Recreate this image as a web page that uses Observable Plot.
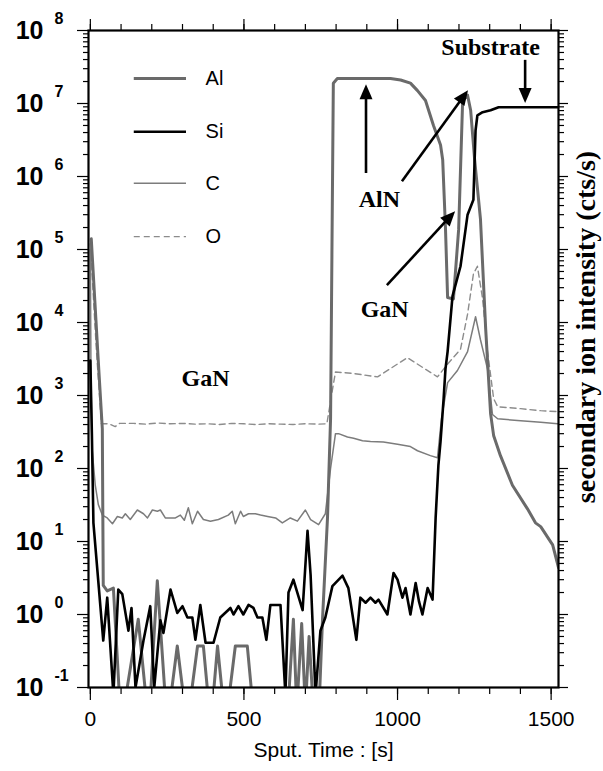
<!DOCTYPE html>
<html><head><meta charset="utf-8">
<script src="https://cdn.jsdelivr.net/npm/d3@7"></script>
<script src="https://cdn.jsdelivr.net/npm/@observablehq/plot@0.6"></script>
<style>body{margin:0;background:#fff;} #chart{width:603px;height:771px;}</style>
</head><body><div id="chart"></div>
<script>
// ---- data: [sputter time (s), intensity (cts/s)] ----
const al = [[3,1.4e5],[26,2.9e3],[39,350],[42,2.5],[55,2.1],[75,2.3],[100,0.03],[156,0.86],[190,0.03],[218,2.9],[250,0.03],[283,0.37],[315,0.03],[349,0.37],[368,0.37],[392,0.03],[414,0.37],[440,0.03],[472,0.37],[511,0.37],[535,0.03],[640,0.03],[661,0.86],[672,0.05],[688,0.75],[700,0.05],[712,0.5],[726,0.05],[745,0.06],[756,0.9],[772,21],[782,480],[791,1.9e7],[804,2.2e7],[977,2.2e7],[1010,2.1e7],[1042,1.9e7],[1065,1.5e7],[1091,1.1e7],[1117,5.0e6],[1140,2.7e6],[1147,1.7e6],[1156,2.0e5],[1163,2.2e4],[1182,2.1e4],[1199,1.9e5],[1212,1.1e7],[1228,1.3e7],[1238,8.1e6],[1251,1.7e6],[1270,2.6e5],[1287,8.1e3],[1303,560],[1313,280],[1335,150],[1374,59],[1423,28],[1449,18],[1466,16],[1505,9],[1524,4.4]];
const si = [[0,3000],[5,300],[10,18],[42,0.44],[55,1.7],[75,0.08],[91,2.2],[104,1.9],[124,0.6],[134,1.23],[147,0.1],[173,0.44],[195,1.3],[208,0.1],[228,0.83],[238,0.56],[261,2.2],[283,1.05],[300,1.3],[316,0.91],[332,0.91],[342,0.45],[358,1.35],[375,0.41],[401,0.41],[423,0.91],[456,1.23],[466,1.0],[482,1.3],[498,1.0],[515,1.35],[531,1.23],[544,0.91],[560,0.91],[573,0.45],[586,1.35],[619,1.35],[635,0.08],[645,2.0],[661,3.0],[691,1.15],[707,14],[717,3.5],[733,0.08],[749,0.6],[765,0.91],[788,2.45],[821,3.4],[840,2.3],[866,0.45],[879,1.7],[896,1.45],[912,1.7],[928,1.45],[938,1.6],[967,1.0],[987,3.7],[1000,3.0],[1016,1.7],[1026,2.3],[1042,1.0],[1059,2.7],[1070,1.5],[1081,1.0],[1098,2.3],[1114,1.6],[1124,21],[1133,110],[1140,235],[1150,900],[1156,2.3e3],[1163,4.0e3],[1179,2.3e4],[1205,5.9e4],[1228,3e5],[1247,4.8e5],[1254,4.3e6],[1260,6.9e6],[1277,7.6e6],[1303,8.1e6],[1329,8.9e6],[1524,8.9e6]];
const c = [[0,1.0e5],[2,2e3],[5,200],[16,59],[26,32],[39,23],[55,21],[72,17.5],[88,22],[104,21],[114,24],[130,20],[153,27],[173,24],[186,21],[202,27],[218,26],[228,27],[244,21],[277,21],[293,23],[306,19.5],[319,29],[332,17.5],[349,26],[368,20],[391,19],[417,20],[449,23],[462,26],[472,17.5],[489,26],[498,22],[515,24],[537,24],[554,23],[577,22],[603,21],[625,18],[651,21],[674,19],[700,27],[717,20],[743,17],[765,24],[782,100],[798,300],[808,300],[837,270],[857,260],[886,240],[912,235],[954,230],[1000,215],[1042,200],[1065,175],[1107,150],[1130,140],[1143,480],[1163,1.5e3],[1195,2.2e3],[1228,4.0e3],[1254,1.2e4],[1270,5.8e3],[1293,2.3e3],[1309,550],[1326,480],[1401,450],[1466,430],[1521,410]];
const o = [[0,1.2e5],[20,4e3],[36,410],[60,410],[81,375],[95,415],[140,415],[180,405],[220,420],[260,410],[300,415],[340,405],[380,410],[420,400],[460,415],[500,410],[540,400],[580,410],[620,405],[660,400],[700,410],[740,405],[770,410],[785,1000],[798,2.1e3],[857,2.0e3],[935,1.8e3],[1032,3.3e3],[1130,1.8e3],[1163,2.7e3],[1205,4.3e3],[1228,1.3e4],[1247,4.6e4],[1260,5.9e4],[1277,2.1e4],[1293,4.0e3],[1313,900],[1326,700],[1401,660],[1466,620],[1524,600]];

const seriesNames = ["Al", "Si", "C", "O"];
const xMajorTicks = [0, 500, 1000, 1500];
const xMinorTicks = d3.range(0, 1501, 100);
const yExponents = [-1, 0, 1, 2, 3, 4, 5, 6, 7, 8];
const yMinorTicks = yExponents.slice(0, -1).flatMap(k => d3.range(2, 10).map(m => m * Math.pow(10, k)));
const xLabel = "Sput. Time : [s]";
const yLabel = "secondary ion intensity (cts/s)";

// annotations (data coordinates)
const annotations = [
  {text: "GaN", x: 375, y: 1.7e3},
  {text: "AlN", x: 941, y: 4.8e5},
  {text: "GaN", x: 958, y: 1.5e4},
  {text: "Substrate", x: 1303, y: 5.9e7}
];
const arrows = [
  {x1: 899, y1: 1.1e6, x2: 899, y2: 1.8e7},
  {x1: 1016, y1: 8.5e5, x2: 1231, y2: 1.5e7},
  {x1: 967, y1: 3.2e4, x2: 1189, y2: 3.3e5},
  {x1: 1417, y1: 3.9e7, x2: 1417, y2: 1.0e7}
];
const legendY = {Al: 2.2e7, Si: 4.1e6, C: 8.1e5, O: 1.5e5};
const legendX1 = 143, legendX2 = 313, legendTextX = 375;

const styles = {
  Al: {stroke: "#6a6a6a", strokeWidth: 3},
  Si: {stroke: "#000000", strokeWidth: 2.6},
  C:  {stroke: "#7c7c7c", strokeWidth: 1.5},
  O:  {stroke: "#8c8c8c", strokeWidth: 1.4, strokeDasharray: "6,4"}
};
const dataBy = {Al: al, Si: si, C: c, O: o};

function arrowMark(index, scales) {
  const g = d3.create("svg:g");
  for (const a of arrows) {
    const x1 = scales.x(a.x1), y1 = scales.y(a.y1), x2 = scales.x(a.x2), y2 = scales.y(a.y2);
    const dx = x2 - x1, dy = y2 - y1, len = Math.hypot(dx, dy), ux = dx / len, uy = dy / len;
    const hl = 15, hw = 6.5;
    const bx = x2 - ux * hl, by = y2 - uy * hl;
    g.append("line").attr("x1", x1).attr("y1", y1).attr("x2", bx + ux * 2).attr("y2", by + uy * 2)
      .attr("stroke", "#000").attr("stroke-width", 2.6);
    g.append("path").attr("d", `M${x2},${y2}L${bx - uy * hw},${by + ux * hw}L${bx + uy * hw},${by - ux * hw}Z`)
      .attr("fill", "#000");
  }
  return g.node();
}

const drawOrder = ["O", "C", "Al", "Si"];
const tickStyle = {stroke: "#000", strokeWidth: 1.2};

const chart = Plot.plot({
  width: 603, height: 771,
  marginLeft: 88, marginRight: 45, marginTop: 30, marginBottom: 84,
  style: {fontFamily: "'Liberation Sans', Arial, sans-serif", background: "#fff", color: "#000"},
  x: {domain: [-6, 1524]},
  y: {type: "log", domain: [0.1, 1e8]},
  marks: [
    // axes ticks
    Plot.axisX({anchor: "bottom", ticks: xMinorTicks, tickSize: 7, tickFormat: () => "", label: null, ...tickStyle}),
    Plot.axisX({anchor: "bottom", ticks: xMajorTicks, tickSize: 13, tickPadding: 11, tickFormat: d => String(d), fontSize: 21, label: null, ...tickStyle}),
    Plot.axisX({anchor: "top", ticks: xMinorTicks, tickSize: 7, tickFormat: () => "", label: null, ...tickStyle}),
    Plot.axisX({anchor: "top", ticks: xMajorTicks, tickSize: 12, tickFormat: () => "", label: null, ...tickStyle}),
    Plot.axisY({anchor: "left", ticks: yMinorTicks, tickSize: 5, tickFormat: () => "", label: null, ...tickStyle}),
    Plot.axisY({anchor: "left", ticks: yExponents.map(k => Math.pow(10, k)), tickSize: 11, tickFormat: () => "", label: null, ...tickStyle}),
    Plot.axisY({anchor: "right", ticks: yMinorTicks, tickSize: 5, tickFormat: () => "", label: null, ...tickStyle}),
    Plot.axisY({anchor: "right", ticks: yExponents.map(k => Math.pow(10, k)), tickSize: 9, tickFormat: () => "", label: null, ...tickStyle}),
    // y tick labels 10^k
    Plot.text(yExponents, {y: k => Math.pow(10, k), text: () => "10", frameAnchor: "left", textAnchor: "end", dx: -45, fontSize: 25, fontWeight: "bold"}),
    Plot.text(yExponents, {y: k => Math.pow(10, k), text: k => String(k), frameAnchor: "left", textAnchor: "start", dx: -34, dy: -12, fontSize: 16, fontWeight: "bold"}),
    // axis titles
    Plot.text([xLabel], {text: d => d, frameAnchor: "bottom", lineAnchor: "middle", dy: 63, fontSize: 21}),
    Plot.text([yLabel], {text: d => d, frameAnchor: "right", textAnchor: "middle", lineAnchor: "middle", rotate: -90, dx: 28, dy: -32, fontSize: 28, fontWeight: "bold", fontFamily: "'Liberation Serif', 'Times New Roman', serif"}),
    // series
    ...drawOrder.map(name => Plot.line(dataBy[name], {x: d => d[0], y: d => d[1], clip: true, strokeLinejoin: "round", ...styles[name]})),
    // legend
    ...seriesNames.map(name => Plot.ruleY([legendY[name]], {x1: legendX1, x2: legendX2, ...styles[name]})),
    Plot.text(seriesNames, {x: legendTextX, y: n => legendY[n], text: n => n, textAnchor: "start", fontSize: 20}),
    // annotations
    Plot.text(annotations, {x: "x", y: "y", text: "text", fontSize: 24, fontWeight: "bold", fontFamily: "'Liberation Serif', 'Times New Roman', serif"}),
    arrowMark,
    Plot.frame({stroke: "#000", strokeWidth: 2.2})
  ]
});
document.getElementById("chart").appendChild(chart);
</script></body></html>
